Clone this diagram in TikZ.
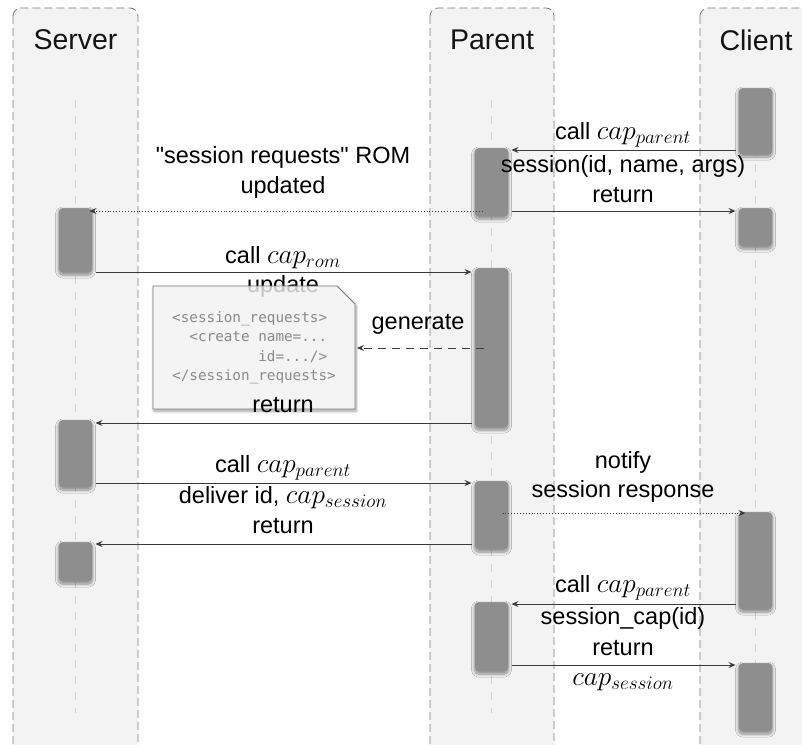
\RequirePackage{fix-cm}
\documentclass[tikz,border=0pt]{standalone}
\usepackage{fontspec}
\setmainfont{Liberation Sans}[Ligatures=TeXOff]
\setmonofont{DejaVu Sans Mono}
\usetikzlibrary{arrows.meta,shadows.blur}
\definecolor{lanefill}{HTML}{F3F3F3}
\definecolor{laneline}{HTML}{7A7A7A}
\definecolor{actfill}{HTML}{8E8E8E}
\definecolor{actline}{HTML}{C4C4C4}
\definecolor{lifecol}{HTML}{D2D2D2}
\definecolor{arrowcol}{HTML}{3A3A3A}
\definecolor{notefill}{HTML}{F4F4F4}
\definecolor{notetxt}{HTML}{8A8A8A}
\newcommand{\bm}[1]{{\fontsize{27.3}{30}\selectfont$#1$}}
\begin{document}
\begin{tikzpicture}[x=1pt,y=-1pt,
  lane/.style={draw=laneline, fill=lanefill, dash pattern=on 8pt off 4pt, line width=0.8pt, rounded corners=8pt},
  life/.style={draw=lifecol, line width=1.5pt, dash pattern=on 8pt off 8pt},
  act/.style={draw=actline, fill=actfill, rounded corners=4pt, minimum width=34pt, inner sep=0pt, outer sep=3pt,
    blur shadow={shadow blur steps=6, shadow xshift=0pt, shadow yshift=-2pt, shadow opacity=45, shadow blur radius=3pt}},
  msg/.style={draw=arrowcol, line width=0.9pt, -{Stealth[length=7pt,width=6pt,inset=2.5pt]}},
  dotmsg/.style={msg, dotted, line width=0.8pt},
  dashmsg/.style={msg, dash pattern=on 8pt off 6pt},
  lbl/.style={font=\fontsize{23.5}{27}\selectfont, inner sep=0pt, align=center},
  title/.style={font=\fontsize{28.5}{34}\selectfont, inner sep=0pt, text=black!92},
  noteshadow/.style={fill=notefill,
    blur shadow={shadow blur steps=6, shadow xshift=1pt, shadow yshift=-2pt, shadow opacity=40, shadow blur radius=3pt}},
  noteveil/.style={draw=laneline, fill=notefill, fill opacity=0.8, line width=0.8pt},
  notetext/.style={font=\fontsize{14.3}{19.5}\selectfont\ttfamily, text=notetxt, align=left, inner sep=0pt,
    minimum width=202pt, minimum height=123pt, outer sep=2pt}
]
\useasboundingbox (0,0) rectangle (802,744);
\clip (0,0) rectangle (802,744);

% lanes
\path[lane] (13,8) rectangle (138,752);
\path[lane] (430,8) rectangle (554,752);
\path[lane] (700,8) rectangle (825,752);

\node[title] (tS) at (75.5,40) {Server};
\node[title] (tP) at (492,40) {Parent};
\node[title] (tC) at (756,40) {Client};

% lifelines
\draw[life] (75.5,100) -- (75.5,713);
\draw[life] (491.5,100) -- (491.5,713);
\draw[life] (755.5,100) -- (755.5,713);

% activations
\node[act, minimum height=65pt] (S1) at (75.5,240.5) {};
\node[act, minimum height=68pt] (S2) at (75.5,454) {};
\node[act, minimum height=40pt] (S3) at (75.5,562) {};
\node[act, minimum height=69pt] (P1) at (491.5,182.5) {};
\node[act, minimum height=160pt] (P2) at (491.5,348) {};
\node[act, minimum height=69pt] (P3) at (491.5,515.5) {};
\node[act, minimum height=70pt] (P4) at (491.5,637) {};
\node[act, minimum height=67pt] (C1) at (755.5,121.5) {};
\node[act, minimum height=39pt] (C2) at (755.5,227.5) {};
\node[act, minimum height=98pt] (C3) at (755.5,561) {};
\node[act, minimum height=69pt] (C4) at (755.5,697.5) {};

% messages, upper part
\draw[msg] (C1.west |- 0,150) -- (P1.east |- 0,150);
\node[lbl] (l1a) at (623,135) {call \bm{cap_{parent}}};
\node[lbl] (l1b) at (623,166) {session(id, name, args)};

\draw[dotmsg] ([xshift=11pt]P1.west |- 0,211) -- ([xshift=-6pt]S1.east |- 0,211);
\node[lbl] (l2a) at (283,157) {"session requests" ROM};
\node[lbl] (l2b) at (283,187) {updated};

\draw[msg] (P1.east |- 0,211) -- (C2.west |- 0,211);
\node[lbl] (l3) at (623,195) {return};

\draw[msg] (S1.east |- 0,272) -- (P2.west |- 0,272);
\node[lbl] (l4a) at (283,258) {call \bm{cap_{rom}}};

% note: shadow and opaque body, then the label behind the veil
\path[noteshadow] (153,286) -- (337,286) -- (355,304) -- (355,409) -- (153,409) -- cycle;
\node[lbl] (l4b) at (283,286) {update};
\path[noteveil] (153,286) -- (337,286) -- (355,304) -- (355,409) -- (153,409) -- cycle;
\node[notetext] (note) at (254,347.5) {%
<session\_requests>\\
\phantom{xx}<create name=...\\
\phantom{xxxxxxxxxx}id=.../>\\
</session\_requests>};

\draw[dashmsg] ([xshift=12pt]P2.west |- 0,348) -- (note.east |- 0,348);
\node[lbl] (l5) at (418,324) {generate};

\draw[msg] (P2.west |- 0,423) -- (S2.east |- 0,423);
\node[lbl] (l6) at (283,405) {return};

\draw[msg] (S2.east |- 0,483) -- (P3.west |- 0,483);
\node[lbl] (l7a) at (283,468) {call \bm{cap_{parent}}};
\node[lbl] (l7b) at (283,498) {deliver id, \bm{cap_{session}}};

\draw[msg] (P3.west |- 0,544) -- (S3.east |- 0,544);
\node[lbl] (l8) at (283,526) {return};

\draw[dotmsg] ([xshift=-9pt]P3.east |- 0,513) -- ([xshift=10pt]C3.west |- 0,513);
\node[lbl] (l9a) at (623,462) {notify};
\node[lbl] (l9b) at (623,491) {session response};

\draw[msg] (C3.west |- 0,604) -- (P4.east |- 0,604);
\node[lbl] (l10a) at (623,588) {call \bm{cap_{parent}}};
\node[lbl] (l10b) at (623,618) {session\_cap(id)};

\draw[msg] (P4.east |- 0,665) -- (C4.west |- 0,665);
\node[lbl] (l11a) at (623,648) {return};
\node[lbl] (l11b) at (623,682) {\bm{cap_{session}}};
\end{tikzpicture}
\end{document}
